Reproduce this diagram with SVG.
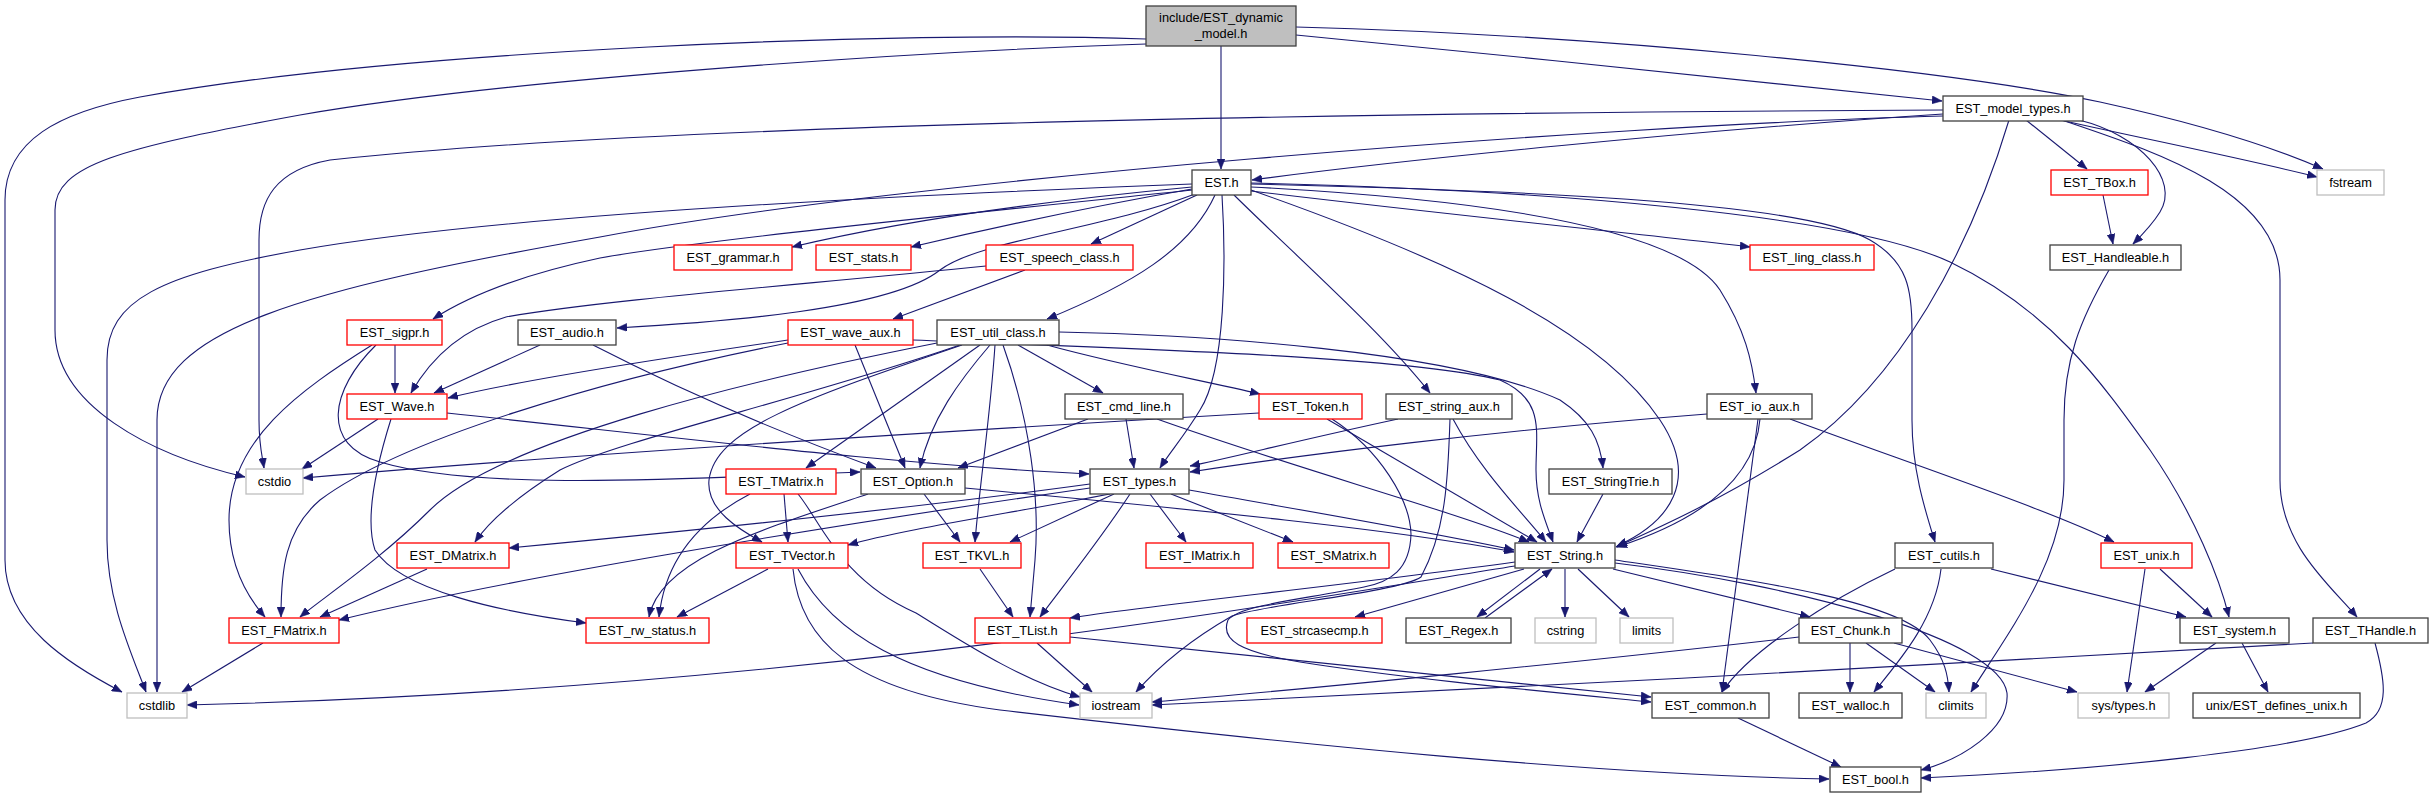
<svg xmlns="http://www.w3.org/2000/svg" width="2433" height="799" viewBox="0 0 2433 799">
<style>
rect{fill:#fff;stroke-width:1.3}
.b{stroke:#404040}
.r{stroke:#ff0000}
.g{stroke:#bfbfbf}
.top{fill:#bfbfbf;stroke:#404040}
text{font-family:"Liberation Sans",Arial,sans-serif;font-size:12.8px;text-anchor:middle;fill:#000}
#edges path{fill:none;stroke:#191970;stroke-width:1.1;marker-end:url(#ah)}
</style>
<defs>
<marker id="ah" markerUnits="userSpaceOnUse" markerWidth="11" markerHeight="8" refX="10" refY="4" orient="auto"><path d="M0,0 L10,4 L0,8 z" fill="#191970" stroke="#191970" stroke-width="0.5"/></marker>
</defs>
<rect width="2433" height="799" fill="#fff" stroke="none"/>
<g id="edges">
<path d="M1146,39 C900,30 400,50 140,97 C60,112 5,140 5,200 L5,560 C5,625 70,665 122,692"/>
<path d="M1146,44 C900,52 500,80 300,115 C120,148 55,165 55,210 L55,330 C55,405 150,455 245,477"/>
<path d="M1221,46 L1221,169"/>
<path d="M1296,35 C1500,55 1800,85 1942,101"/>
<path d="M1296,27 C1600,35 1950,70 2100,102 C2200,124 2275,148 2323,169"/>
<path d="M1943,114 C1700,130 1400,160 1252,180"/>
<path d="M1943,110 C1500,112 700,120 330,160 C275,170 259,200 259,240 L259,420 C259,445 262,455 264,468"/>
<path d="M1943,116 C1600,125 900,180 600,237 C300,290 157,330 157,420 L157,692"/>
<path d="M2009,120 C1970,250 1900,380 1800,450 C1720,500 1665,525 1616,547"/>
<path d="M2026,120 L2087,169"/>
<path d="M2079,120 C2140,135 2180,180 2160,212 C2152,225 2142,235 2133,244"/>
<path d="M2060,120 C2150,140 2250,160 2317,177"/>
<path d="M2062,120 C2150,150 2280,190 2280,280 L2280,480 C2280,545 2330,585 2357,617"/>
<path d="M1192,184 C900,195 500,215 300,250 C160,275 107,300 107,360 L107,540 C107,600 130,650 146,692"/>
<path d="M1193,190 C1000,210 700,240 600,258 C520,275 470,295 433,319"/>
<path d="M1192,187 C1000,205 880,226 792,247"/>
<path d="M1192,189 C1100,205 1000,226 911,247"/>
<path d="M1197,195 L1091,244"/>
<path d="M1195,194 C1100,230 980,240 940,270 C890,310 720,322 617,328"/>
<path d="M1215,195 C1190,250 1130,285 1047,319"/>
<path d="M1222,195 C1226,260 1226,370 1200,410 C1185,435 1170,452 1160,468"/>
<path d="M1234,195 C1300,260 1380,330 1430,393"/>
<path d="M1251,190 C1450,260 1600,330 1660,420 C1700,480 1670,522 1617,546"/>
<path d="M1251,187 C1500,200 1680,230 1720,290 C1745,330 1752,360 1756,393"/>
<path d="M1251,191 C1450,215 1650,235 1750,247"/>
<path d="M1251,184 C1500,190 1800,200 1870,240 C1908,262 1912,290 1912,330 L1912,420 C1912,470 1925,510 1935,542"/>
<path d="M1251,183 C1550,190 1850,215 1950,262 C2050,310 2100,380 2150,450 C2195,515 2220,580 2229,617"/>
<path d="M2103,195 L2113,244"/>
<path d="M2109,270 C2080,320 2064,360 2064,420 L2064,480 C2064,560 2010,630 1971,692"/>
<path d="M986,266 C800,285 600,300 506,317 C460,330 430,360 411,393"/>
<path d="M1025,270 L893,319"/>
<path d="M395,345 L395,393"/>
<path d="M372,345 C300,390 229,440 229,520 C229,570 250,600 265,617"/>
<path d="M376,345 C330,390 320,445 380,462 C480,492 700,478 860,472"/>
<path d="M540,345 L434,393"/>
<path d="M593,345 C700,400 800,440 876,468"/>
<path d="M788,340 C650,360 520,380 448,398"/>
<path d="M788,343 C600,380 400,440 320,500 C285,530 281,570 281,617"/>
<path d="M855,345 L905,468"/>
<path d="M913,340 C1100,348 1400,355 1500,380 C1545,400 1536,430 1536,470 C1536,500 1545,520 1553,542"/>
<path d="M937,343 C750,380 500,440 430,510 C380,560 320,600 300,617"/>
<path d="M960,345 C800,400 620,440 560,470 C520,495 490,520 475,542"/>
<path d="M962,345 C800,400 715,430 709,480 C706,510 740,530 762,542"/>
<path d="M980,345 L806,468"/>
<path d="M990,345 C960,380 930,420 920,468"/>
<path d="M995,345 C990,420 980,480 975,542"/>
<path d="M1003,345 C1030,420 1040,500 1035,560 L1030,617"/>
<path d="M1018,345 L1103,393"/>
<path d="M1047,345 C1120,365 1200,380 1260,394"/>
<path d="M1059,332 C1200,335 1450,350 1560,400 C1590,420 1600,440 1603,468"/>
<path d="M378,419 L302,469"/>
<path d="M391,419 C375,470 365,520 375,550 C400,590 500,612 586,623"/>
<path d="M447,413 C700,440 900,465 1089,474"/>
<path d="M1259,413 C1000,428 600,452 303,478"/>
<path d="M1327,419 L1537,542"/>
<path d="M1332,419 C1380,450 1410,500 1411,534 C1410,570 1390,582 1364,587 C1300,600 1240,605 1228,620 C1220,640 1240,652 1300,662 C1400,678 1550,692 1651,702"/>
<path d="M1398,419 C1300,440 1230,458 1190,466"/>
<path d="M1453,419 C1480,470 1520,510 1546,542"/>
<path d="M1450,419 C1448,480 1446,530 1421,577 C1400,592 1260,605 1232,616 C1190,640 1160,665 1136,692"/>
<path d="M1088,419 L958,468"/>
<path d="M1126,419 L1134,468"/>
<path d="M1157,419 C1300,470 1450,510 1529,542"/>
<path d="M1707,414 C1500,430 1300,455 1190,472"/>
<path d="M1760,419 C1755,480 1700,520 1617,547"/>
<path d="M1758,419 L1722,692"/>
<path d="M1790,419 C1900,460 2050,510 2114,542"/>
<path d="M1603,494 L1577,542"/>
<path d="M784,494 L788,542"/>
<path d="M750,494 C700,520 665,560 659,617"/>
<path d="M798,494 C820,520 840,580 916,613 C960,640 1020,680 1080,697"/>
<path d="M868,494 C760,530 660,560 649,617"/>
<path d="M924,494 L960,542"/>
<path d="M965,488 C1200,510 1400,530 1514,552"/>
<path d="M1090,488 C800,530 500,580 339,620"/>
<path d="M1090,484 C900,510 700,530 509,548"/>
<path d="M1110,494 C1000,515 900,530 848,545"/>
<path d="M1114,494 L1010,542"/>
<path d="M1130,494 C1100,540 1060,590 1040,617"/>
<path d="M1150,494 L1186,542"/>
<path d="M1171,494 L1293,542"/>
<path d="M1189,490 C1300,510 1420,530 1514,550"/>
<path d="M427,569 L320,617"/>
<path d="M768,569 L677,617"/>
<path d="M798,569 C830,630 900,680 1079,705"/>
<path d="M793,569 C800,640 850,690 1000,710 C1300,745 1600,775 1829,779"/>
<path d="M980,569 L1013,617"/>
<path d="M1037,643 L1092,692"/>
<path d="M1070,637 C1300,660 1500,680 1651,697"/>
<path d="M1515,566 C1300,600 800,690 187,705"/>
<path d="M1515,562 C1350,585 1150,605 1070,618"/>
<path d="M1524,569 L1355,617"/>
<path d="M1540,569 L1477,617"/>
<path d="M1485,618 L1552,569"/>
<path d="M1565,569 L1565,617"/>
<path d="M1578,569 L1629,617"/>
<path d="M1613,569 L1810,617"/>
<path d="M1615,560 C1750,580 1900,600 1930,640 C1945,660 1948,675 1949,692"/>
<path d="M1615,563 C1800,585 2000,640 2007,693 C2010,730 1960,760 1921,770"/>
<path d="M1799,637 C1600,660 1300,690 1152,702"/>
<path d="M1850,643 L1850,692"/>
<path d="M1866,643 L1935,692"/>
<path d="M1894,643 L2077,692"/>
<path d="M1941,569 C1935,620 1900,660 1874,692"/>
<path d="M1991,569 L2186,617"/>
<path d="M1895,569 C1830,600 1750,650 1722,692"/>
<path d="M2145,569 L2127,692"/>
<path d="M2160,569 L2212,617"/>
<path d="M2216,643 L2145,692"/>
<path d="M2242,643 L2268,692"/>
<path d="M2313,643 C2000,660 1500,690 1152,705"/>
<path d="M2375,643 C2385,680 2390,710 2366,723 C2300,750 2100,770 1921,778"/>
<path d="M1738,718 L1841,767"/>
<path d="M263,643 L182,692"/>
</g>
<g id="n0"><rect class="top" x="1146" y="6" width="150" height="40"/><text x="1221" y="22">include/EST_dynamic</text><text x="1221" y="38">_model.h</text></g>
<g id="n1"><rect class="b" x="1943" y="96" width="140" height="25"/><text x="2013" y="113">EST_model_types.h</text></g>
<g id="n2"><rect class="b" x="1192" y="170" width="59" height="25"/><text x="1221.5" y="187">EST.h</text></g>
<g id="n3"><rect class="g" x="2317" y="170" width="67" height="25"/><text x="2350.5" y="187">fstream</text></g>
<g id="n4"><rect class="r" x="2051" y="170" width="97" height="25"/><text x="2099.5" y="187">EST_TBox.h</text></g>
<g id="n5"><rect class="r" x="674" y="245" width="118" height="25"/><text x="733" y="262">EST_grammar.h</text></g>
<g id="n6"><rect class="r" x="816" y="245" width="95" height="25"/><text x="863.5" y="262">EST_stats.h</text></g>
<g id="n7"><rect class="r" x="986" y="245" width="147" height="25"/><text x="1059.5" y="262">EST_speech_class.h</text></g>
<g id="n8"><rect class="r" x="1750" y="245" width="124" height="25"/><text x="1812" y="262">EST_ling_class.h</text></g>
<g id="n9"><rect class="b" x="2050" y="245" width="131" height="25"/><text x="2115.5" y="262">EST_Handleable.h</text></g>
<g id="n10"><rect class="r" x="347" y="320" width="95" height="25"/><text x="394.5" y="337">EST_sigpr.h</text></g>
<g id="n11"><rect class="b" x="518" y="320" width="98" height="25"/><text x="567" y="337">EST_audio.h</text></g>
<g id="n12"><rect class="r" x="788" y="320" width="125" height="25"/><text x="850.5" y="337">EST_wave_aux.h</text></g>
<g id="n13"><rect class="b" x="937" y="320" width="122" height="25"/><text x="998" y="337">EST_util_class.h</text></g>
<g id="n14"><rect class="r" x="347" y="394" width="100" height="25"/><text x="397" y="411">EST_Wave.h</text></g>
<g id="n15"><rect class="b" x="1065" y="394" width="118" height="25"/><text x="1124" y="411">EST_cmd_line.h</text></g>
<g id="n16"><rect class="r" x="1259" y="394" width="103" height="25"/><text x="1310.5" y="411">EST_Token.h</text></g>
<g id="n17"><rect class="b" x="1386" y="394" width="126" height="25"/><text x="1449" y="411">EST_string_aux.h</text></g>
<g id="n18"><rect class="b" x="1707" y="394" width="105" height="25"/><text x="1759.5" y="411">EST_io_aux.h</text></g>
<g id="n19"><rect class="g" x="246" y="469" width="57" height="25"/><text x="274.5" y="486">cstdio</text></g>
<g id="n20"><rect class="r" x="726" y="469" width="110" height="25"/><text x="781" y="486">EST_TMatrix.h</text></g>
<g id="n21"><rect class="b" x="861" y="469" width="104" height="25"/><text x="913" y="486">EST_Option.h</text></g>
<g id="n22"><rect class="b" x="1090" y="469" width="99" height="25"/><text x="1139.5" y="486">EST_types.h</text></g>
<g id="n23"><rect class="b" x="1549" y="469" width="123" height="25"/><text x="1610.5" y="486">EST_StringTrie.h</text></g>
<g id="n24"><rect class="r" x="397" y="543" width="112" height="25"/><text x="453" y="560">EST_DMatrix.h</text></g>
<g id="n25"><rect class="r" x="736" y="543" width="112" height="25"/><text x="792" y="560">EST_TVector.h</text></g>
<g id="n26"><rect class="r" x="923" y="543" width="98" height="25"/><text x="972" y="560">EST_TKVL.h</text></g>
<g id="n27"><rect class="r" x="1146" y="543" width="107" height="25"/><text x="1199.5" y="560">EST_IMatrix.h</text></g>
<g id="n28"><rect class="r" x="1278" y="543" width="111" height="25"/><text x="1333.5" y="560">EST_SMatrix.h</text></g>
<g id="n29"><rect class="b" x="1515" y="543" width="100" height="25"/><text x="1565" y="560">EST_String.h</text></g>
<g id="n30"><rect class="b" x="1895" y="543" width="98" height="25"/><text x="1944" y="560">EST_cutils.h</text></g>
<g id="n31"><rect class="r" x="2101" y="543" width="91" height="25"/><text x="2146.5" y="560">EST_unix.h</text></g>
<g id="n32"><rect class="r" x="229" y="618" width="110" height="25"/><text x="284" y="635">EST_FMatrix.h</text></g>
<g id="n33"><rect class="r" x="586" y="618" width="123" height="25"/><text x="647.5" y="635">EST_rw_status.h</text></g>
<g id="n34"><rect class="r" x="975" y="618" width="95" height="25"/><text x="1022.5" y="635">EST_TList.h</text></g>
<g id="n35"><rect class="r" x="1247" y="618" width="135" height="25"/><text x="1314.5" y="635">EST_strcasecmp.h</text></g>
<g id="n36"><rect class="b" x="1406" y="618" width="105" height="25"/><text x="1458.5" y="635">EST_Regex.h</text></g>
<g id="n37"><rect class="g" x="1535" y="618" width="61" height="25"/><text x="1565.5" y="635">cstring</text></g>
<g id="n38"><rect class="g" x="1620" y="618" width="53" height="25"/><text x="1646.5" y="635">limits</text></g>
<g id="n39"><rect class="b" x="1799" y="618" width="103" height="25"/><text x="1850.5" y="635">EST_Chunk.h</text></g>
<g id="n40"><rect class="b" x="2180" y="618" width="109" height="25"/><text x="2234.5" y="635">EST_system.h</text></g>
<g id="n41"><rect class="b" x="2313" y="618" width="115" height="25"/><text x="2370.5" y="635">EST_THandle.h</text></g>
<g id="n42"><rect class="g" x="127" y="693" width="60" height="25"/><text x="157" y="710">cstdlib</text></g>
<g id="n43"><rect class="g" x="1080" y="693" width="72" height="25"/><text x="1116" y="710">iostream</text></g>
<g id="n44"><rect class="b" x="1652" y="693" width="117" height="25"/><text x="1710.5" y="710">EST_common.h</text></g>
<g id="n45"><rect class="b" x="1799" y="693" width="103" height="25"/><text x="1850.5" y="710">EST_walloc.h</text></g>
<g id="n46"><rect class="g" x="1926" y="693" width="60" height="25"/><text x="1956" y="710">climits</text></g>
<g id="n47"><rect class="g" x="2078" y="693" width="91" height="25"/><text x="2123.5" y="710">sys/types.h</text></g>
<g id="n48"><rect class="b" x="2193" y="693" width="167" height="25"/><text x="2276.5" y="710">unix/EST_defines_unix.h</text></g>
<g id="n49"><rect class="b" x="1830" y="767" width="91" height="25"/><text x="1875.5" y="784">EST_bool.h</text></g>
</svg>
